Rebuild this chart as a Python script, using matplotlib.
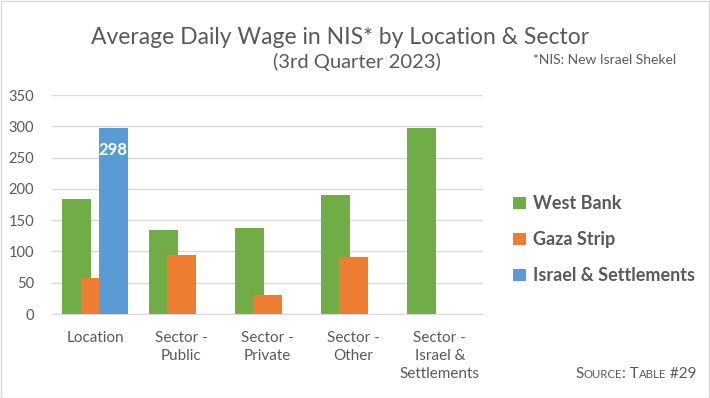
import matplotlib.pyplot as plt
import numpy as np
from matplotlib.patches import Rectangle

plt.rcParams['font.family'] = ['Lato', 'DejaVu Sans']

categories = ["Location", "Sector -\nPublic", "Sector -\nPrivate", "Sector -\nOther",
              "Sector -\nIsrael &\nSettlements"]
series_names = ["West Bank", "Gaza Strip", "Israel & Settlements"]
west_bank = [184, 134, 137, 191, 297]
gaza = [58, 94, 30, 91, None]
israel = [298, None, None, None, None]
colors = ["#70ad47", "#ed7d31", "#5b9bd5"]

txt = "#595959"

fig = plt.figure(figsize=(7.1, 3.98), dpi=100)
ax = fig.add_axes([0.0732, 0.211, 0.607, 0.55])

x = np.arange(len(categories))
width = 0.337
step = 0.21
bars = []
for i, vals in enumerate([west_bank, gaza, israel]):
    xs = [x[j] + (i - 1) * step for j in range(len(vals)) if vals[j] is not None]
    vs = [v for v in vals if v is not None]
    b = ax.bar(xs, vs, width=width, color=colors[i], zorder=2 + i, label=series_names[i])
    bars.append(b)

# data label on the blue bar
ax.text(x[0] + step, israel[0] - 36, str(israel[0]), ha='center', va='center',
        color='white', fontsize=12, fontweight='bold', zorder=10)

ax.set_ylim(0, 350)
ax.set_xlim(-0.5, len(categories) - 0.5)
ax.set_yticks(range(0, 351, 50))
ax.set_xticks(x)
ax.set_xticklabels(categories, color=txt, fontsize=11, linespacing=1.4)
ax.tick_params(axis='y', colors=txt, labelsize=10.5, length=0, pad=13)
ax.tick_params(axis='x', length=0, pad=12)
ax.grid(axis='y', color='#d9d9d9', linewidth=1, zorder=0)
ax.set_axisbelow(True)
for s in ['top', 'right', 'left']:
    ax.spines[s].set_visible(False)
ax.spines['bottom'].set_color('#d9d9d9')

fig.text(0.479, 0.905, "Average Daily Wage in NIS* by Location & Sector", ha='center', va='center',
         fontsize=16.5, color=txt)
fig.text(0.503, 0.845, "(3rd Quarter 2023)", ha='center', va='center',
         fontsize=14.5, color=txt)
fig.text(0.852, 0.85, "*NIS: New Israel Shekel", ha='center', va='center',
         fontsize=10, color=txt)

leg = fig.legend(handles=bars, labels=series_names, loc='upper left',
                 bbox_to_anchor=(0.7, 0.55), frameon=False, handlelength=0.7,
                 handleheight=0.7, handletextpad=0.4, labelspacing=1.05,
                 prop={'size': 13, 'weight': 'bold'})
for t in leg.get_texts():
    t.set_color(txt)

# small caps source note, pieces laid side by side
parts = [("S", 11), ("OURCE", 8.2), (": T", 11), ("ABLE", 8.2), (" #29", 11)]
src = [fig.text(0, 0.05, s, fontsize=fs, color=txt, ha='left', va='baseline') for s, fs in parts]
fig.canvas.draw()
r = fig.canvas.get_renderer()
xpos = 0.81
for t in src:
    t.set_position((xpos, 0.05))
    xpos += t.get_window_extent(renderer=r).width / fig.bbox.width

fig.add_artist(Rectangle((0.001, 0.001), 0.998, 0.997, transform=fig.transFigure,
                         fill=False, edgecolor='#d9d9d9', linewidth=1))

fig.savefig("out.png", dpi=100)
